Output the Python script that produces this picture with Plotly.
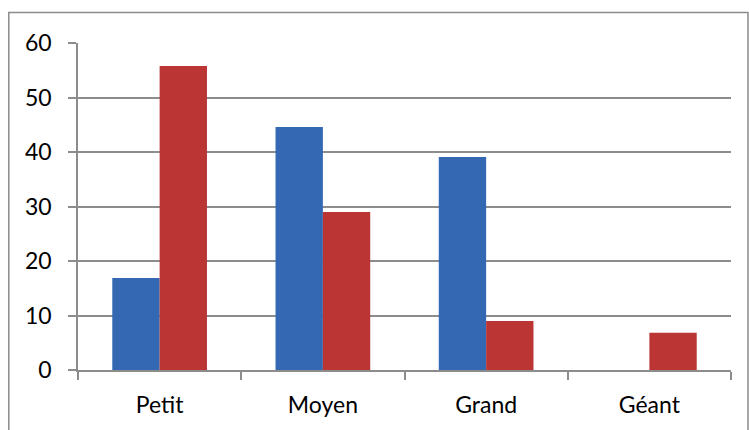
import plotly.graph_objects as go

categories = ["Petit", "Moyen", "Grand", "Géant"]
series_blue = [16.9, 44.6, 39.1, 0]
series_red = [55.8, 29.0, 9.0, 6.85]
y_ticks = [0, 10, 20, 30, 40, 50, 60]

fig = go.Figure()
fig.add_trace(go.Bar(x=categories, y=series_blue, name="Série 1",
                     marker=dict(color="#3468B2", line=dict(width=0))))
fig.add_trace(go.Bar(x=categories, y=series_red, name="Série 2",
                     marker=dict(color="#BA3533", line=dict(width=0))))

fig.update_layout(
    width=749, height=430,
    margin=dict(l=77.5, r=18, t=43, b=60),
    paper_bgcolor="white", plot_bgcolor="white",
    barmode="group", bargap=0.42, bargroupgap=0,
    showlegend=False,
    font=dict(family="Lato, Carlito, Calibri, sans-serif", size=23, color="#000000"),
    shapes=[dict(type="rect", xref="paper", yref="paper",
                 x0=-0.106, x1=1.026, y0=-0.5, y1=1.093,
                 line=dict(color="#8c8c8c", width=1.5), fillcolor="rgba(0,0,0,0)",
                 layer="below")],
)
fig.update_yaxes(range=[0, 60], tickvals=y_ticks, showgrid=True,
                 gridcolor="#8c8c8c", gridwidth=1.5,
                 showline=True, linecolor="#8c8c8c", linewidth=1.5,
                 ticks="outside", ticklen=8, tickcolor="#8c8c8c", tickwidth=1.5,
                 ticklabelstandoff=12, zeroline=False)
fig.update_xaxes(showline=True, linecolor="#8c8c8c", linewidth=1.5,
                 ticks="outside", ticklen=8, tickcolor="#8c8c8c", tickwidth=1.5,
                 tickson="boundaries", ticklabelstandoff=14, showgrid=False)

fig.write_html("out.html")
